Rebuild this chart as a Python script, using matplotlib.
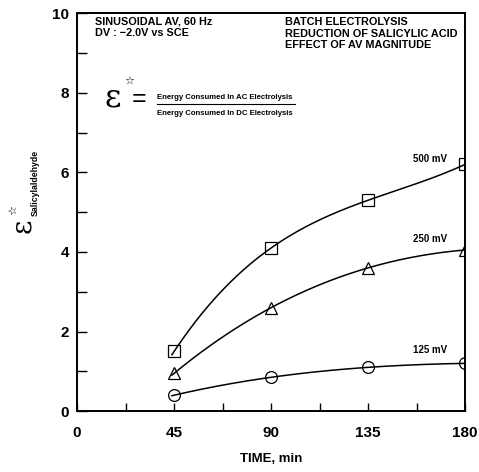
import matplotlib
matplotlib.use("Agg")
import matplotlib.pyplot as plt
import numpy as np

plt.rcParams["font.family"] = ["Liberation Sans", "DejaVu Sans"]

# data
time_min = [45, 90, 135, 180]
eps_500 = [1.5, 4.1, 5.3, 6.2]
eps_250 = [0.95, 2.6, 3.6, 4.05]
eps_125 = [0.4, 0.85, 1.1, 1.2]

series = [
    ("500 mV", eps_500, "s", 6.2),
    ("250 mV", eps_250, "^", 4.2),
    ("125 mV", eps_125, "o", 1.42),
]

x_ticks = [0, 45, 90, 135, 180]


def main():
    fig = plt.figure(figsize=(4.79, 4.72), dpi=100)
    ax = fig.add_axes([0.161, 0.129, 0.81, 0.843])

    for label, values, marker, label_y in series:
        # smooth curve through the four measured points
        fit = np.polyfit(time_min, values, 3)
        xs = np.linspace(44, 180, 200)
        ax.plot(xs, np.polyval(fit, xs), color="black", linewidth=1.1)
        ax.plot(time_min, values, linestyle="none", marker=marker,
                markersize=8.5, markerfacecolor="none",
                markeredgecolor="black", markeredgewidth=0.9)
        ax.text(171.5, label_y, label, fontsize=7, fontweight="bold",
                ha="right", va="bottom")

    ax.set_xlim(0, 180)
    ax.set_ylim(0, 10)
    ax.set_xticks(x_ticks)
    ax.set_xticks(np.arange(22.5, 180, 22.5), minor=True)
    ax.set_yticks([0, 2, 4, 6, 8, 10])
    ax.set_yticks(np.arange(1, 10, 2), minor=True)
    ax.tick_params(axis="x", which="both", direction="in", length=6,
                   width=1, pad=11, labelsize=11)
    ax.tick_params(axis="y", which="both", direction="in", length=7,
                   width=1, pad=6, labelsize=11)
    for lab in ax.get_xticklabels() + ax.get_yticklabels():
        lab.set_fontweight("bold")
    for spine in ax.spines.values():
        spine.set_linewidth(1.4)

    ax.set_xlabel("TIME, min", fontsize=9.5, fontweight="bold", labelpad=9)

    # y label: epsilon with star and small subscript
    fig.text(0.047, 0.521, "\u03b5", fontsize=20, rotation=90,
             ha="center", va="center", family="DejaVu Serif")
    fig.text(0.027, 0.555, "\u2606", fontsize=8, rotation=90,
             ha="center", va="center", family="DejaVu Sans")
    fig.text(0.074, 0.612, "Salicylaldehyde", fontsize=6.3, rotation=90,
             fontweight="bold", ha="center", va="center")

    ax.text(8.3, 9.93, "SINUSOIDAL AV, 60 Hz\nDV : \u22122.0V vs SCE",
            fontsize=7.8, fontweight="bold", va="top", linespacing=1.2)
    ax.text(96.5, 9.9,
            "BATCH ELECTROLYSIS\nREDUCTION OF SALICYLIC ACID\n"
            "EFFECT OF AV MAGNITUDE",
            fontsize=7.8, fontweight="bold", va="top", linespacing=1.2)

    ax.text(12.5, 7.86, "\u03b5", fontsize=23, va="center", ha="left",
            family="DejaVu Serif")
    ax.text(21.8, 8.3, "\u2606", fontsize=8, va="center", ha="left",
            family="DejaVu Sans")
    ax.text(25.3, 7.84, "=", fontsize=18, va="center", ha="left")
    ax.text(37, 7.8, "Energy Consumed In AC Electrolysis", fontsize=5.6,
            fontweight="bold", ha="left", va="bottom")
    ax.plot([37, 101], [7.71, 7.71], color="black", linewidth=0.8)
    ax.text(37, 7.58, "Energy Consumed In DC Electrolysis", fontsize=5.6,
            fontweight="bold", ha="left", va="top")

    fig.savefig("out.png", dpi=100)
    plt.close(fig)


if __name__ == "__main__":
    main()
